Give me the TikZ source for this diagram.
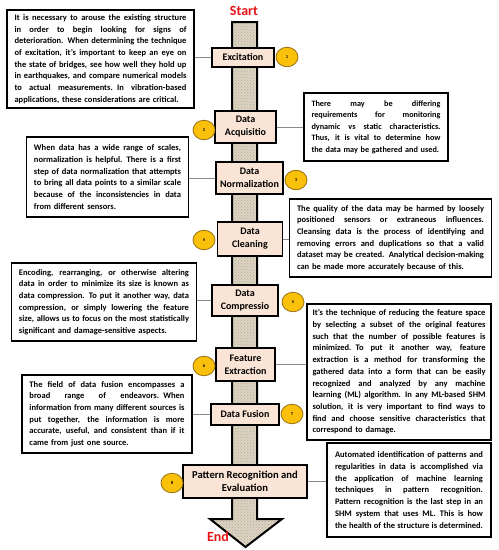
\documentclass[tikz,border=0pt]{standalone}
\usepackage{fontspec}
\setmainfont{Carlito}
\usetikzlibrary{shapes.geometric,patterns}
\definecolor{stepfill}{RGB}{250,228,213}
\definecolor{gold}{RGB}{250,192,10}
\definecolor{numborder}{RGB}{150,110,20}
\definecolor{shaftfill}{RGB}{220,211,194}
\definecolor{shaftdot}{RGB}{182,170,150}
\definecolor{startred}{RGB}{230,20,20}
\newcommand\JL[1]{{\spaceskip=.23em plus 3em minus .04em\makebox[\hsize][s]{#1}}\\}
\newcommand\JLlast[1]{{\spaceskip=.23em plus 3em minus .04em\makebox[\hsize][s]{#1}}}
\newcommand\LL[1]{\mbox{#1}}
\tikzset{
  desc/.style={draw=black, line width=1.5pt, fill=white, rectangle, inner xsep=7.5pt, inner ysep=0pt, align=left, font=\bfseries\fontsize{8.5}{11.7}\selectfont},
  stepbox/.style={draw=black, line width=1.7pt, fill=stepfill, rectangle, align=center, inner sep=1pt, font=\bfseries\fontsize{10}{13}\selectfont},
  numc/.style={ellipse, draw=numborder, line width=0.8pt, fill=gold, minimum width=22pt, minimum height=19.5pt, inner sep=0pt, font=\bfseries\fontsize{4.5}{5}\selectfont},
  conn/.style={draw=black!45, line width=0.7pt},
  endlabel/.style={text=startred, font=\bfseries\fontsize{14}{16}\selectfont, inner sep=0pt}
}
\begin{document}
\begin{tikzpicture}[x=1pt,y=-1pt]
\useasboundingbox (0,0) rectangle (499,550);
% shaft arrow
\path[fill=shaftfill] (232,22) -- (232,519) -- (210,519) -- (245.5,547) -- (282,519) -- (257,519) -- (257,22) -- cycle;
\path[pattern=crosshatch dots, pattern color=shaftdot] (232,22) -- (232,519) -- (210,519) -- (245.5,547) -- (282,519) -- (257,519) -- (257,22) -- cycle;
\draw[black, line width=2pt, line join=miter] (232,22) -- (232,519) -- (210,519) -- (245.5,547) -- (282,519) -- (257,519) -- (257,22) -- cycle;

\node[endlabel] (start) at (244,11) {Start};
\node[endlabel] (end) at (218,537) {End};

% step boxes
\node[stepbox, minimum width=62pt, minimum height=19pt] (s1) at (243,57.5) {Excitation};
\node[stepbox, minimum width=61pt, minimum height=32pt] (s2) at (245.5,127) {Data\\Acquisitio};
\node[stepbox, minimum width=67pt, minimum height=32pt] (s3) at (249.5,178) {Data\\Normalization};
\node[stepbox, minimum width=65pt, minimum height=34pt] (s4) at (250,239) {Data\\Cleaning};
\node[stepbox, minimum width=66pt, minimum height=31pt] (s5) at (245,300.5) {Data\\Compressio};
\node[stepbox, minimum width=59pt, minimum height=33pt] (s6) at (245.5,364.5) {Feature\\Extraction};
\node[stepbox, minimum width=68pt, minimum height=21pt] (s7) at (245,414.5) {Data Fusion};
\node[stepbox, minimum width=124pt, minimum height=33pt, font=\bfseries\fontsize{10.6}{13.5}\selectfont] (s8) at (245,481.5) {Pattern Recognition and\\Evaluation};

% number circles
\node[numc] (c1) at (287,57) {1};
\node[numc] (c2) at (204,130) {2};
\node[numc] (c3) at (296,180) {3};
\node[numc] (c4) at (204,240) {4};
\node[numc] (c5) at (293,302) {5};
\node[numc] (c6) at (204,366) {6};
\node[numc] (c7) at (292,414) {7};
\node[numc] (c8) at (172,483) {8};

% description boxes
\node[desc, text width=172pt, minimum height=98pt] (b1) at (100.5,59) {%
\JL{It is necessary to arouse the existing structure}
\JL{in order to begin looking for signs of}
\JL{deterioration. When determining the technique}
\JL{of excitation, it’s important to keep an eye on}
\JL{the state of bridges, see how well they hold up}
\JL{in earthquakes, and compare numerical models}
\JL{to actual measurements. In vibration-based}
\LL{applications, these considerations are critical.}};

\node[desc, text width=129pt, minimum height=68pt, font=\bfseries\fontsize{8.2}{11.5}\selectfont] (b2) at (376,127) {%
\JL{There may be differing}
\JL{requirements for monitoring}
\JL{dynamic vs static characteristics.}
\JL{Thus, it is vital to determine how}
\LL{the data may be gathered and used.}};

\node[desc, text width=147pt, minimum height=80pt] (b3) at (107.5,177) {%
\JL{When data has a wide range of scales,}
\JL{normalization is helpful. There is a first}
\JL{step of data normalization that attempts}
\JL{to bring all data points to a similar scale}
\JL{because of the inconsistencies in data}
\LL{from different sensors.}};

\node[desc, text width=187pt, minimum height=78pt] (b4) at (390.5,238) {%
\JL{The quality of the data may be harmed by loosely}
\JL{positioned sensors or extraneous influences.}
\JL{Cleansing data is the process of identifying and}
\JL{removing errors and duplications so that a valid}
\JL{dataset may be created. Analytical decision-making}
\LL{can be made more accurately because of this.}};

\node[desc, text width=170pt, minimum height=78pt] (b5) at (104,302) {%
\JL{Encoding, rearranging, or otherwise altering}
\JL{data in order to minimize its size is known as}
\JL{data compression. To put it another way, data}
\JL{compression, or simply lowering the feature}
\JL{size, allows us to focus on the most statistically}
\LL{significant and damage-sensitive aspects.}};

\node[desc, text width=173pt, minimum height=136pt, inner xsep=5.5pt] (b6) at (399,372) {%
\JL{It’s the technique of reducing the feature space}
\JL{by selecting a subset of the original features}
\JL{such that the number of possible features is}
\JL{minimized. To put it another way, feature}
\JL{extraction is a method for transforming the}
\JL{gathered data into a form that can be easily}
\JL{recognized and analyzed by any machine}
\JL{learning (ML) algorithm. In any ML-based SHM}
\JL{solution, it is very important to find ways to}
\JL{find and choose sensitive characteristics that}
\LL{correspond to damage.}};

\node[desc, text width=155pt, minimum height=78pt] (b7) at (107,414) {%
\JL{The field of data fusion encompasses a}
\JL{broad range of endeavors. When}
\JL{information from many different sources is}
\JL{put together, the information is more}
\JL{accurate, useful, and consistent than if it}
\LL{came from just one source.}};

\node[desc, text width=148pt, minimum height=94pt, inner xsep=8pt] (b8) at (409,490) {%
\JL{Automated identification of patterns and}
\JL{regularities in data is accomplished via}
\JL{the application of machine learning}
\JL{techniques in pattern recognition.}
\JL{Pattern recognition is the last step in an}
\JL{SHM system that uses ML. This is how}
\JLlast{the health of the structure is determined.}};

% connectors
\draw[conn] (s1.west) -- (s1.west -| b1.east);
\draw[conn] (s2.east) -- (s2.east -| b2.west);
\draw[conn] (s3.west) -- (s3.west -| b3.east);
\draw[conn] (s4.east) -- (s4.east -| b4.west);
\draw[conn] (s5.west) -- (s5.west -| b5.east);
\draw[conn] (s6.east) -- (s6.east -| b6.west);
\draw[conn] (s7.west) -- (s7.west -| b7.east);
\draw[conn] (s8.east) -- (s8.east -| b8.west);
\end{tikzpicture}
\end{document}
